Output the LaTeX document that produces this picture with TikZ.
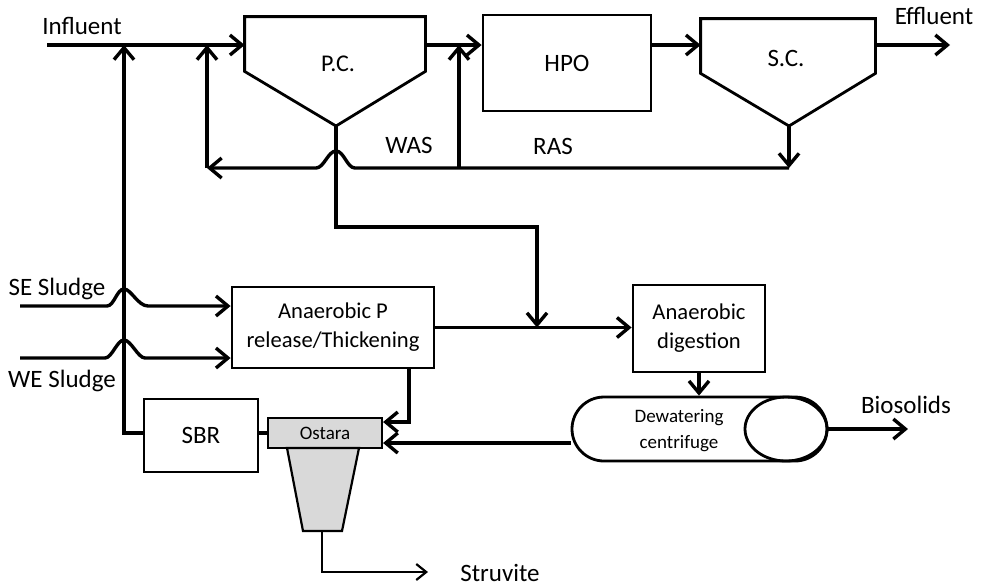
\documentclass[tikz,border=0pt]{standalone}
\usepackage{fontspec}
\setmainfont{Carlito}
\usepackage{tikz}
\usetikzlibrary{arrows.meta,shapes.geometric}

\tikzset{
  flow/.style={line width=1.7pt,-{Straight Barb[length=6pt,width=10pt]}},
  pipe/.style={line width=1.7pt},
  thinflow/.style={line width=1.1pt,-{Straight Barb[length=5pt,width=8pt]}},
  box/.style={draw,line width=1.4pt,inner sep=0pt,align=center},
  big/.style={font=\fontsize{12.5}{15}\selectfont},
  mid/.style={font=\fontsize{11.3}{14.5}\selectfont},
  small/.style={font=\fontsize{9.5}{13}\selectfont},
}

\begin{document}
\begin{tikzpicture}[x=0.5pt,y=-0.5pt]
\useasboundingbox (0,0) rectangle (990,586);

\pgfmathsetmacro{\YF}{45}    % main line
\pgfmathsetmacro{\YR}{168}   % return line

% clarifiers
\node[minimum width=90pt,minimum height=27pt] (pc) at (335,44) {};
\coordinate (pcv) at (336,126);
\draw[line width=1.4pt] (pc.north west) -- (pc.north east) -- (pc.south east) -- (pcv) -- (pc.south west) -- cycle;
\node[font=\fontsize{12}{14}\selectfont] (pclab) at (338,64) {P.C.};

\node[minimum width=87pt,minimum height=27pt] (sc) at (788,46) {};
\coordinate (scv) at (789,126);
\draw[line width=1.4pt] (sc.north west) -- (sc.north east) -- (sc.south east) -- (scv) -- (sc.south west) -- cycle;
\node[big] (sclab) at (786,58) {S.C.};

% process units
\node[box,big,minimum width=84pt,minimum height=48pt] (hpo) at (567,63) {HPO};
\node[box,mid,minimum width=101pt,minimum height=40.5pt] (ap) at (333,327.5) {Anaerobic P\\release/Thickening};
\node[box,mid,minimum width=66pt,minimum height=43.5pt] (ad) at (699,328.5) {Anaerobic\\digestion};
\node[box,big,line width=1.1pt,minimum width=57pt,minimum height=36.5pt] (sbr) at (201,435.5) {SBR};
\node[box,small,line width=1.1pt,fill=gray!30,minimum width=57pt,minimum height=15pt] (ostara) at (325,433) {Ostara};
\draw[line width=1.1pt,fill=gray!30] (287,448) -- (359,448) -- (342,531) -- (303,531) -- cycle;
\coordinate (funout) at (322,531);

% centrifuge
\node[box,rounded corners=16pt,minimum width=127.5pt,minimum height=32pt] (cf) at (699.5,429) {};
\node[draw,ellipse,line width=1.4pt,minimum width=41pt,minimum height=32pt,inner sep=0pt] (cfbowl) at (786,429) {};
\node[small,align=center] (cflab) at (679,431) {Dewatering\\centrifuge};

% stream labels
\node[big] (influent) at (82,26) {Influent};
\node[big] (effluent) at (934,16) {Effluent};
\node[big] (sesludge) at (57,289) {SE Sludge};
\node[big] (wesludge) at (62,381) {WE Sludge};
\node[big] (biosolids) at (906,405) {Biosolids};
\node[big] (struvite) at (500,573) {Struvite};
\node[big] (was) at (409,145) {WAS};
\node[big] (ras) at (553,146) {RAS};

% junctions
\coordinate (inf) at (47,\YF);
\coordinate (jinf) at (124,\YF);
\coordinate (jwas) at (207,\YF);
\coordinate (jras) at (459,\YF);
\coordinate (wasturn) at (207,\YR);
\coordinate (rasturn) at (459,\YR);
\coordinate (rasend) at (789,\YR);
\coordinate (jdig) at (537,327.5);
\coordinate (se) at (20,306);
\coordinate (we) at (20,358);
\coordinate (eff) at (950,\YF);
\coordinate (bio) at (908,429);
\coordinate (struv) at (428,572);

% main line
\draw[flow] (inf) -- (pc.west |- inf);
\draw[flow] (pc.east |- inf) -- (hpo.west |- inf);
\draw[flow] (hpo.east |- inf) -- (sc.west |- inf);
\draw[flow] (sc.east |- inf) -- (eff);

% sludge return
\draw[flow] (scv) -- (rasend);
\draw[flow] (rasend) -- (355,\YR) .. controls (347,\YR) and (344,151) .. (336,151) .. controls (328,151) and (324,\YR) .. (316,\YR) -- (wasturn);
\draw[flow] (wasturn) -- (jwas);
\draw[flow] (rasturn) -- (jras);

% primary sludge
\draw[flow] (pcv) -- (336,227) -| (jdig);

% external sludges
\draw[flow] (se) -- (107,306) .. controls (114,306) and (117,289) .. (124,289) .. controls (131,289) and (138,306) .. (148,306) -- (ap.west |- se);
\draw[flow] (we) -- (105,358) .. controls (112,358) and (117,340) .. (124,340) .. controls (131,340) and (138,358) .. (145,358) -- (ap.west |- we);

% solids train
\draw[flow] (ap.east) -- (ad.west |- ap.east);
\draw[flow] (ad.south) -- (cf.north -| ad.south);
\draw[flow] (cf.east) -- (bio);
\draw[flow] (ap.south -| 409,0) |- (ostara.east |- 0,422);
\draw[flow] (cf.west |- 0,443) -- (ostara.east |- 0,443);

% sidestream
\draw[pipe] (sbr.east |- ostara.west) -- (ostara.west);
\draw[flow] (sbr.west |- ostara.west) -| (jinf);
\draw[thinflow] (funout) |- (struv);
\end{tikzpicture}
\end{document}
